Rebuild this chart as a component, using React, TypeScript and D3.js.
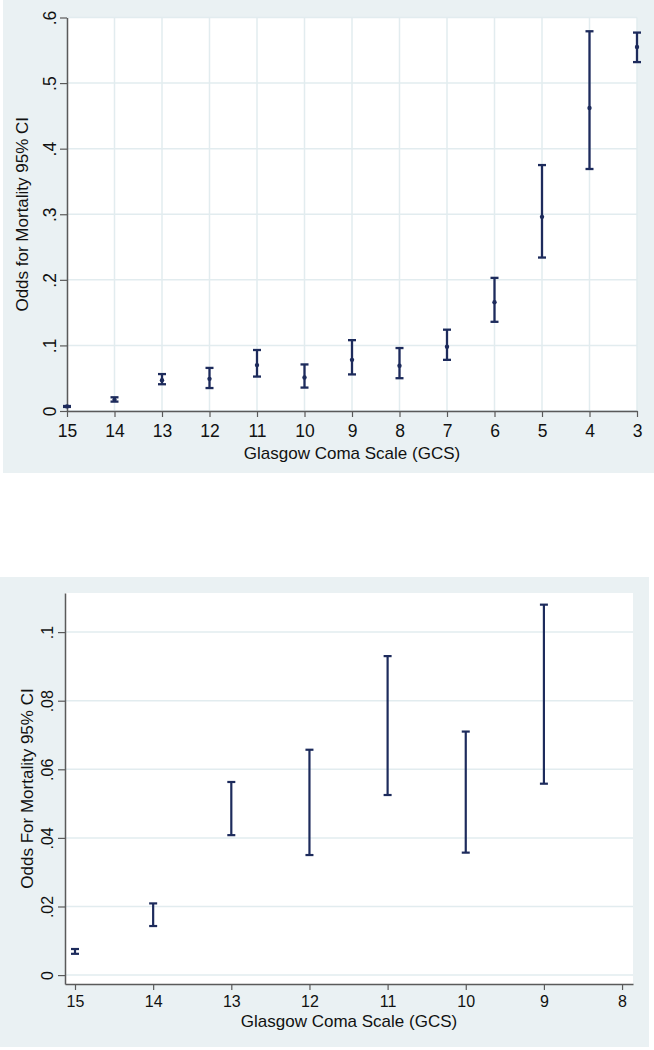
import React, { useEffect, useRef } from 'react';
import * as d3 from 'd3';

// GCS categories, odds and 95% CI bounds
const gcs = [15, 14, 13, 12, 11, 10, 9, 8, 7, 6, 5, 4, 3];
const odds = [0.007, 0.017, 0.047, 0.049, 0.070, 0.051, 0.078, 0.069, 0.098, 0.166, 0.296, 0.462, 0.555];
const lower = [0.0062, 0.0143, 0.0408, 0.035, 0.0525, 0.0357, 0.0558, 0.050, 0.078, 0.136, 0.234, 0.369, 0.532];
const upper = [0.0076, 0.0209, 0.0563, 0.0657, 0.093, 0.071, 0.108, 0.096, 0.124, 0.203, 0.375, 0.579, 0.577];

// zoomed panel shows only GCS 15..9
const zoomGcs = [15, 14, 13, 12, 11, 10, 9];
const topYTicks = [0, 0.1, 0.2, 0.3, 0.4, 0.5, 0.6];
const bottomYTicks = [0, 0.02, 0.04, 0.06, 0.08, 0.1];
const bottomXTicks = [15, 14, 13, 12, 11, 10, 9, 8];

const BG = '#eaf1f3';
const GRID = '#e2ecef';
const AXIS = '#5a5a5a';
const BAR = '#1d2b5c';
const FONT = '"Liberation Sans", Arial, sans-serif';

const fmt = (v: number) => (v === 0 ? '0' : String(+v.toFixed(2)).replace(/^0/, ''));

export default function App() {
  const svgRef = useRef<SVGSVGElement>(null);

  useEffect(() => {
    if (!svgRef.current) return;
    const svg = d3.select(svgRef.current);
    svg.selectAll('*').remove();

    const rows = gcs.map((g, i) => ({ g, odds: odds[i], lo: lower[i], hi: upper[i] }));

    // ---------- top panel ----------
    const top = svg.append('g');
    top.append('rect').attr('x', 3).attr('y', 0).attr('width', 651).attr('height', 473).attr('fill', BG);

    const x1 = d3.scaleLinear().domain([15, 3]).range([67, 637]);
    const y1 = d3.scaleLinear().domain([0, 0.6]).range([411, 17.5]);

    top.append('rect').attr('x', 67).attr('y', 17.5).attr('width', 570).attr('height', 393.5).attr('fill', '#fff');

    // grid
    top.append('g').selectAll('line').data(gcs).join('line')
      .attr('x1', d => x1(d)).attr('x2', d => x1(d)).attr('y1', 17.5).attr('y2', 411)
      .attr('stroke', GRID).attr('stroke-width', 1.5);
    top.append('g').selectAll('line').data(topYTicks).join('line')
      .attr('x1', 67).attr('x2', 637).attr('y1', d => y1(d)).attr('y2', d => y1(d))
      .attr('stroke', GRID).attr('stroke-width', 1.5);

    // axes
    const xAxis1 = top.append('g').attr('transform', 'translate(0,411)')
      .call(d3.axisBottom(x1).tickValues(gcs).tickSize(6).tickSizeOuter(0).tickFormat(d3.format('d')));
    xAxis1.select('.domain').attr('stroke', AXIS).attr('stroke-width', 1.5);
    xAxis1.selectAll('.tick line').attr('stroke', AXIS).attr('stroke-width', 1.2);
    xAxis1.selectAll('.tick text').attr('font-family', FONT).attr('font-size', 17.5).attr('fill', '#111').attr('dy', '0.95em');

    const yAxis1 = top.append('g').attr('transform', 'translate(67,0)')
      .call(d3.axisLeft(y1).tickValues(topYTicks).tickSize(7).tickSizeOuter(0).tickFormat(d => fmt(+d)));
    yAxis1.select('.domain').attr('stroke', AXIS).attr('stroke-width', 1.5);
    yAxis1.selectAll('.tick line').attr('stroke', AXIS).attr('stroke-width', 1.2);
    yAxis1.selectAll('.tick text')
      .attr('font-family', FONT).attr('font-size', 17.5).attr('fill', '#111')
      .attr('text-anchor', 'middle').attr('x', 0).attr('dy', 0)
      .attr('transform', 'translate(-11,0) rotate(-90)');

    top.append('text').attr('x', 352).attr('y', 459).attr('text-anchor', 'middle')
      .attr('font-family', FONT).attr('font-size', 17).attr('fill', '#111')
      .text('Glasgow Coma Scale (GCS)');
    top.append('text').attr('transform', `translate(28,${(17.5 + 411) / 2}) rotate(-90)`)
      .attr('text-anchor', 'middle').attr('font-family', FONT).attr('font-size', 17).attr('fill', '#111')
      .text('Odds for Mortality 95% CI');

    // error bars
    const bars1 = top.append('g').attr('stroke', BAR).attr('stroke-width', 2.3).attr('fill', 'none');
    bars1.selectAll('line.v').data(rows).join('line').attr('class', 'v')
      .attr('x1', d => x1(d.g)).attr('x2', d => x1(d.g)).attr('y1', d => y1(d.lo)).attr('y2', d => y1(d.hi));
    bars1.selectAll('line.lo').data(rows).join('line').attr('class', 'lo')
      .attr('x1', d => x1(d.g) - 4).attr('x2', d => x1(d.g) + 4).attr('y1', d => y1(d.lo)).attr('y2', d => y1(d.lo));
    bars1.selectAll('line.hi').data(rows).join('line').attr('class', 'hi')
      .attr('x1', d => x1(d.g) - 4).attr('x2', d => x1(d.g) + 4).attr('y1', d => y1(d.hi)).attr('y2', d => y1(d.hi));
    top.append('g').selectAll('circle').data(rows).join('circle')
      .attr('cx', d => x1(d.g)).attr('cy', d => y1(d.odds)).attr('r', 2.2).attr('fill', BAR);

    // ---------- bottom panel ----------
    const bot = svg.append('g');
    bot.append('rect').attr('x', 0).attr('y', 577).attr('width', 649).attr('height', 470).attr('fill', BG);

    const x2 = d3.scaleLinear().domain([15.128, 7.86]).range([65, 633]);
    const y2 = d3.scaleLinear().domain([-0.0026, 0.1114]).range([984, 593]);

    bot.append('rect').attr('x', 65).attr('y', 593).attr('width', 568).attr('height', 391).attr('fill', '#fff');
    bot.append('g').selectAll('line').data(bottomYTicks).join('line')
      .attr('x1', 65).attr('x2', 633).attr('y1', d => y2(d)).attr('y2', d => y2(d))
      .attr('stroke', GRID).attr('stroke-width', 1.5);

    const xAxis2 = bot.append('g').attr('transform', 'translate(0,984)')
      .call(d3.axisBottom(x2).tickValues(bottomXTicks).tickSize(6).tickSizeOuter(0).tickFormat(d3.format('d')));
    xAxis2.select('.domain').attr('stroke', AXIS).attr('stroke-width', 1.5);
    xAxis2.selectAll('.tick line').attr('stroke', AXIS).attr('stroke-width', 1.2);
    xAxis2.selectAll('.tick text').attr('font-family', FONT).attr('font-size', 16).attr('fill', '#111').attr('dy', '0.85em');

    const yAxis2 = bot.append('g').attr('transform', 'translate(65,0)')
      .call(d3.axisLeft(y2).tickValues(bottomYTicks).tickSize(7).tickSizeOuter(0).tickFormat(d => fmt(+d)));
    yAxis2.select('.domain').attr('stroke', AXIS).attr('stroke-width', 1.5);
    yAxis2.selectAll('.tick line').attr('stroke', AXIS).attr('stroke-width', 1.2);
    yAxis2.selectAll('.tick text')
      .attr('font-family', FONT).attr('font-size', 16).attr('fill', '#111')
      .attr('text-anchor', 'middle').attr('x', 0).attr('dy', 0)
      .attr('transform', 'translate(-12,0) rotate(-90)');

    bot.append('text').attr('x', 349).attr('y', 1027).attr('text-anchor', 'middle')
      .attr('font-family', FONT).attr('font-size', 17).attr('fill', '#111')
      .text('Glasgow Coma Scale (GCS)');
    bot.append('text').attr('transform', `translate(33,${(593 + 984) / 2}) rotate(-90)`)
      .attr('text-anchor', 'middle').attr('font-family', FONT).attr('font-size', 17).attr('fill', '#111')
      .text('Odds For Mortality 95% CI');

    const zrows = rows.filter(r => zoomGcs.includes(r.g));
    const bars2 = bot.append('g').attr('stroke', BAR).attr('stroke-width', 2.2).attr('fill', 'none');
    bars2.selectAll('line.v').data(zrows).join('line').attr('class', 'v')
      .attr('x1', d => x2(d.g)).attr('x2', d => x2(d.g)).attr('y1', d => y2(d.lo)).attr('y2', d => y2(d.hi));
    bars2.selectAll('line.lo').data(zrows).join('line').attr('class', 'lo')
      .attr('x1', d => x2(d.g) - 4).attr('x2', d => x2(d.g) + 4).attr('y1', d => y2(d.lo)).attr('y2', d => y2(d.lo));
    bars2.selectAll('line.hi').data(zrows).join('line').attr('class', 'hi')
      .attr('x1', d => x2(d.g) - 4).attr('x2', d => x2(d.g) + 4).attr('y1', d => y2(d.hi)).attr('y2', d => y2(d.hi));
  }, []);

  return (
    <div style={{ position: 'absolute', left: 0, top: 0 }}>
      <svg ref={svgRef} width={654} height={1050} viewBox="0 0 654 1050" style={{ display: 'block', background: '#fff' }} />
    </div>
  );
}
